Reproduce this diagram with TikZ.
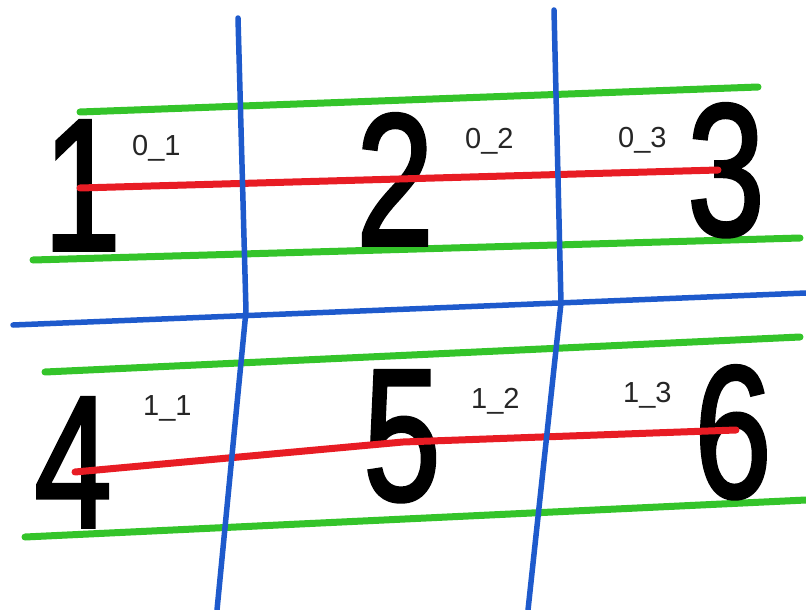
\documentclass[tikz,border=0pt]{standalone}
\usepackage{fontspec}
\setmainfont{Liberation Sans}
\newfontfamily\handfont[FakeBold=2]{Liberation Sans}
\definecolor{penblue}{RGB}{30,90,204}
\definecolor{pengreen}{RGB}{52,196,42}
\definecolor{penred}{RGB}{232,28,36}
\begin{document}
\begin{tikzpicture}[x=1pt,y=-1pt,
  bluepen/.style={draw=penblue,line width=5.5pt,line cap=round,line join=round},
  greenpen/.style={draw=pengreen,line width=7pt,line cap=round},
  redpen/.style={draw=penred,line width=7pt,line cap=round,line join=round},
  bigdigit/.style={inner sep=0pt,anchor=base,font=\handfont\fontsize{188}{188}\selectfont},
  lbl/.style={inner sep=0pt,anchor=base west,text=black!85,font=\fontsize{29}{29}\selectfont}]
\fill[white] (0,0) rectangle (806,610);
\useasboundingbox (0,0) rectangle (806,610);
% coordinates
\coordinate (vla) at (238,18);
\coordinate (vlb) at (246,311);
\coordinate (vlc) at (217,610);
\coordinate (vra) at (554,10);
\coordinate (vrb) at (561,303);
\coordinate (vrc) at (528,610);
\coordinate (hl) at (13,325);
\coordinate (hr) at (806,293);
\coordinate (g1a) at (80,112);
\coordinate (g1b) at (758,87);
\coordinate (g2a) at (33,260);
\coordinate (g2b) at (800,238);
\coordinate (g3a) at (45,372);
\coordinate (g3b) at (800,337);
\coordinate (g4a) at (25,537);
\coordinate (g4b) at (806,500);
\coordinate (r1a) at (80,188);
\coordinate (r1b) at (718,170);
\coordinate (r2a) at (75,472);
\coordinate (r2m) at (403,442);
\coordinate (r2b) at (736,430);
% green lines
\draw[greenpen] (g1a) -- (g1b);
\draw[greenpen] (g2a) -- (g2b);
\draw[greenpen] (g3a) -- (g3b);
\draw[greenpen] (g4a) -- (g4b);
% big digits
\node[bigdigit] (d1) at (82,250) {\scalebox{0.74}[1]{1}};
\node[bigdigit] (d2) at (395,245) {\scalebox{0.74}[1]{2}};
\node[bigdigit] (d3) at (726,235) {\scalebox{0.74}[1]{3}};
\node[bigdigit] (d4) at (73,527) {\scalebox{0.74}[1]{4}};
\node[bigdigit] (d5) at (402,500) {\scalebox{0.74}[1]{5}};
\node[bigdigit] (d6) at (733,497) {\scalebox{0.74}[1]{6}};
% red lines
\draw[redpen] (r1a) -- (r1b);
\draw[redpen] (r2a) -- (r2m) -- (r2b);
% blue lines
\draw[bluepen] (hl) -- (hr);
\draw[bluepen] (vla) -- (vlb) -- (vlc);
\draw[bluepen] (vra) -- (vrb) -- (vrc);
% labels
\node[lbl] (l01) at (132,155) {0\_1};
\node[lbl] (l02) at (465,148) {0\_2};
\node[lbl] (l03) at (618,147) {0\_3};
\node[lbl] (l11) at (143,415) {1\_1};
\node[lbl] (l12) at (471,408) {1\_2};
\node[lbl] (l13) at (623,402) {1\_3};
\end{tikzpicture}
\end{document}
